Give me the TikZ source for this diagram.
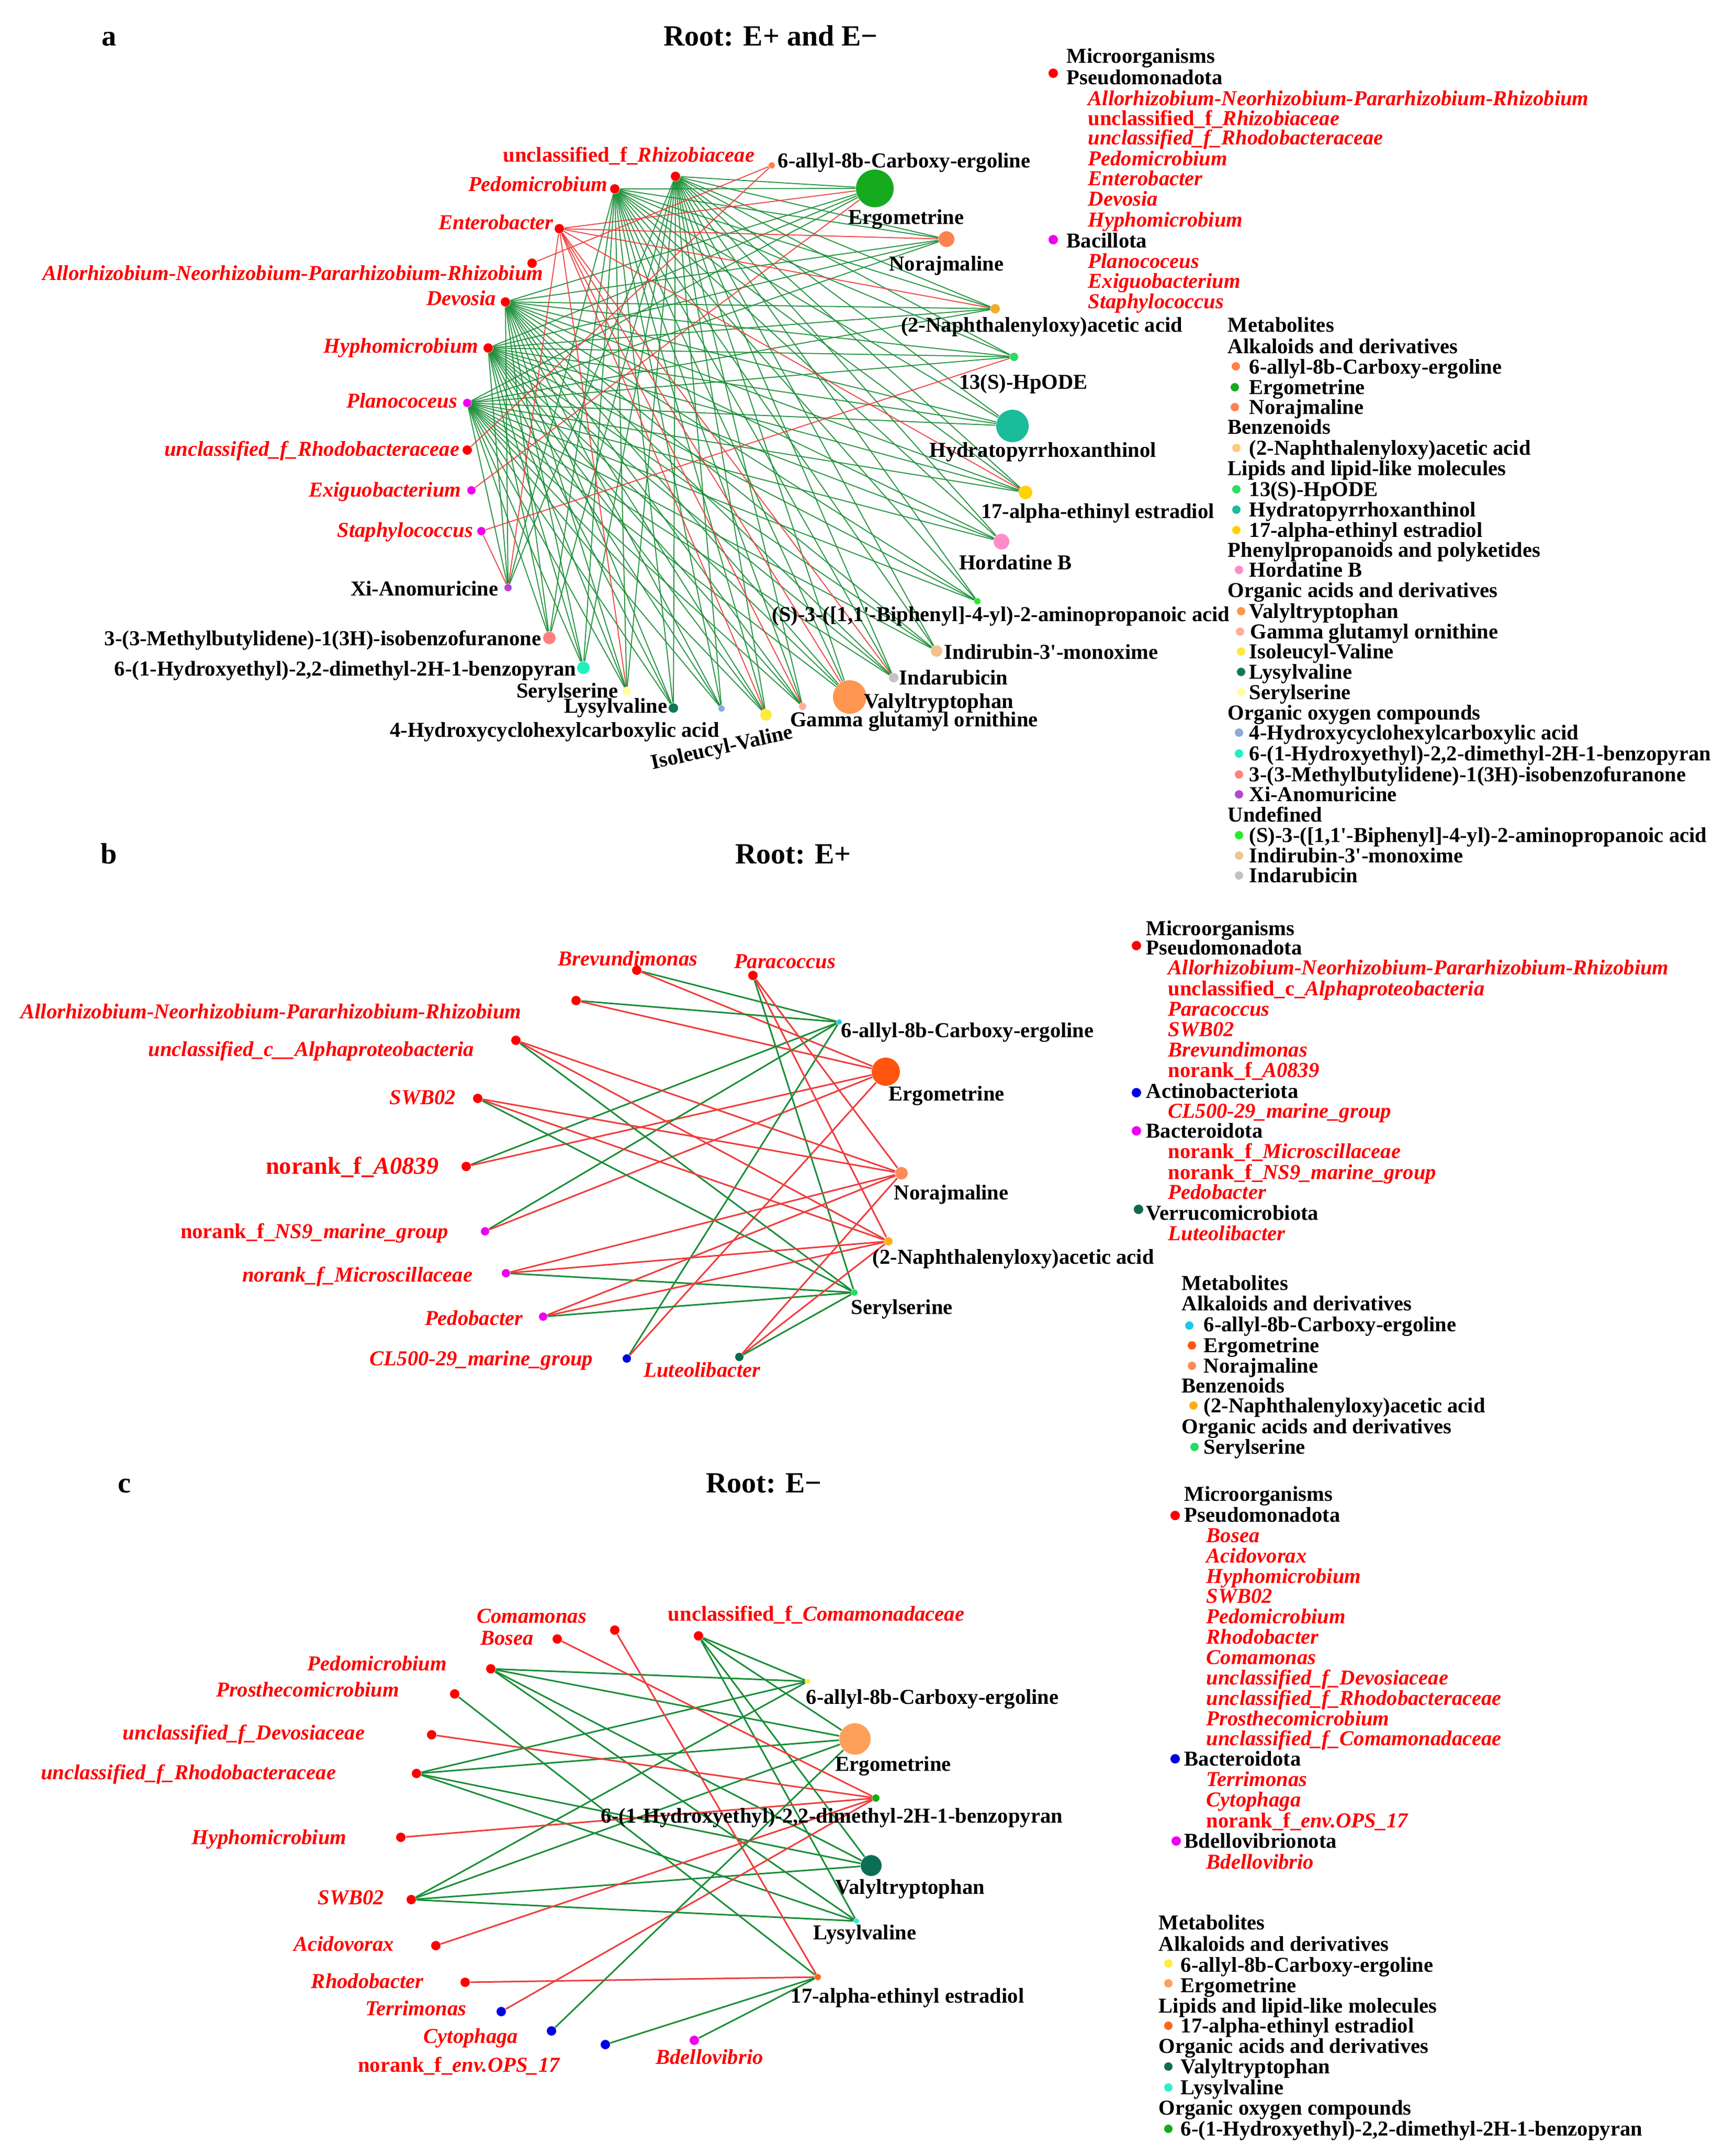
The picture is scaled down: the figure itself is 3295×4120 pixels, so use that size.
\documentclass[tikz,border=0pt]{standalone}
\usepackage{fontspec}
\setmainfont{Liberation Serif}
\pgfdeclarelayer{bg}
\pgfsetlayers{bg,main}
\definecolor{eg}{RGB}{25,142,55}
\definecolor{er}{RGB}{240,60,60}
\definecolor{mg}{RGB}{238,0,238}
\definecolor{cAllyl}{RGB}{255,127,70}
\definecolor{cErgo}{RGB}{22,170,30}
\definecolor{cNora}{RGB}{255,128,80}
\definecolor{cNaph}{RGB}{245,170,40}
\definecolor{cNaphL}{RGB}{255,200,122}
\definecolor{cHp}{RGB}{40,220,100}
\definecolor{cHyd}{RGB}{26,188,156}
\definecolor{cEst}{RGB}{255,210,0}
\definecolor{cHord}{RGB}{255,140,200}
\definecolor{cValy}{RGB}{255,150,80}
\definecolor{cGam}{RGB}{255,175,150}
\definecolor{cIso}{RGB}{255,232,60}
\definecolor{cLys}{RGB}{16,120,90}
\definecolor{cSer}{RGB}{255,255,160}
\definecolor{cHcy}{RGB}{140,168,220}
\definecolor{cHeb}{RGB}{34,240,192}
\definecolor{cMeb}{RGB}{255,128,128}
\definecolor{cXi}{RGB}{180,70,210}
\definecolor{cBip}{RGB}{40,235,40}
\definecolor{cInd}{RGB}{240,195,145}
\definecolor{cIda}{RGB}{195,195,195}
\definecolor{bAllyl}{RGB}{30,200,230}
\definecolor{bErgo}{RGB}{255,85,15}
\definecolor{bNora}{RGB}{255,138,90}
\definecolor{bNaph}{RGB}{255,175,20}
\definecolor{bSer}{RGB}{35,220,100}
\definecolor{cBlue}{RGB}{0,0,230}
\definecolor{cVerr}{RGB}{15,105,75}
\definecolor{kAllyl}{RGB}{255,235,70}
\definecolor{kErgo}{RGB}{255,160,90}
\definecolor{kEst}{RGB}{255,100,30}
\definecolor{kValy}{RGB}{14,110,85}
\definecolor{kLys}{RGB}{46,240,200}
\definecolor{kHeb}{RGB}{24,170,24}
\newcommand{\lbfont}{\fontsize{10.15}{12}\selectfont\bfseries}
\newcommand{\titfont}{\fontsize{14}{16}\selectfont\bfseries}
\begin{document}
\begin{tikzpicture}[x=0.25pt,y=-0.25pt,
  lab/.style={inner sep=0pt, font=\lbfont, text=black},
  mic/.style={inner sep=0pt, font=\lbfont\itshape, text=red},
  lg/.style={lab, anchor=base west},
  lgm/.style={mic, anchor=base west},
  nd/.style 2 args={circle, inner sep=0pt, draw=none, fill=#1, minimum size=#2*0.5pt},
  ttl/.style={inner sep=0pt, font=\titfont, anchor=base},
  ga/.style={draw=eg, line width=0.5pt, opacity=0.9},
  ra/.style={draw=er, line width=0.5pt, opacity=0.9},
  gb/.style={draw=eg, line width=0.75pt},
  rb/.style={draw=er, line width=0.75pt}]
\useasboundingbox (0,0) rectangle (3295,4120);
\begin{pgfonlayer}{bg}
\fill[white] (0,0) rectangle (3295,4120);
\end{pgfonlayer}

% ================= PANEL A =================
\node[ttl] (ta) at (208,88) {a};
\node[ttl] (tta) at (1473,88) {Root: E+ and E−};

\node[nd={red}{9}] (aU) at (1291,337) {};
\node[mic, anchor=base] (aUl) at (1202,310) {{\upshape unclassified\_f\_}Rhizobiaceae};
\node[nd={red}{9}] (aPe) at (1175,361) {};
\node[mic, anchor=base east] (aPel) at (1162,366) {Pedomicrobium};
\node[nd={red}{9}] (aEn) at (1069,437) {};
\node[mic, anchor=base east] (aEnl) at (1058,439) {Enterobacter};
\node[nd={red}{9}] (aAl) at (1017,503) {};
\node[mic, anchor=base east] (aAll) at (1039,536) {Allorhizobium-Neorhizobium-Pararhizobium-Rhizobium};
\node[nd={red}{9}] (aDe) at (966,577) {};
\node[mic, anchor=base east] (aDel) at (949,584) {Devosia};
\node[nd={red}{9}] (aHy) at (933,665) {};
\node[mic, anchor=base east] (aHyl) at (915,674) {Hyphomicrobium};
\node[nd={mg}{8}] (aPl) at (893,770) {};
\node[mic, anchor=base east] (aPll) at (875,779) {Planococeus};
\node[nd={red}{9}] (aRh) at (893,860) {};
\node[mic, anchor=base east] (aRhl) at (879,871) {unclassified\_f\_Rhodobacteraceae};
\node[nd={mg}{8}] (aEx) at (901,937) {};
\node[mic, anchor=base east] (aExl) at (882,949) {Exiguobacterium};
\node[nd={mg}{8}] (aSt) at (920,1015) {};
\node[mic, anchor=base east] (aStl) at (905,1026) {Staphylococcus};

\node[nd={cAllyl}{6}] (m1) at (1475,316) {};
\node[lab, anchor=base west] (m1l) at (1486,321) {6-allyl-8b-Carboxy-ergoline};
\node[nd={cErgo}{36}] (m2) at (1672,360) {};
\node[lab, anchor=base] (m2l) at (1732,429) {Ergometrine};
\node[nd={cNora}{15}] (m3) at (1809,457) {};
\node[lab, anchor=base] (m3l) at (1809,517) {Norajmaline};
\node[nd={cNaph}{9}] (m4) at (1902,590) {};
\node[lab, anchor=base] (m4l) at (1991,634) {(2-Naphthalenyloxy)acetic acid};
\node[nd={cHp}{8}] (m5) at (1938,682) {};
\node[lab, anchor=base] (m5l) at (1956,743) {13(S)-HpODE};
\node[nd={cHyd}{31}] (m6) at (1935,814) {};
\node[lab, anchor=base] (m6l) at (1993,873) {Hydratopyrrhoxanthinol};
\node[nd={cEst}{13}] (m7) at (1960,941) {};
\node[lab, anchor=base] (m7l) at (2098,990) {17-alpha-ethinyl estradiol};
\node[nd={cHord}{15}] (m8) at (1914,1035) {};
\node[lab, anchor=base] (m8l) at (1941,1088) {Hordatine B};
\node[nd={cBip}{6}] (m9) at (1868,1149) {};
\node[lab, anchor=base] (m9l) at (1913,1187) {(S)-3-([1,1\textquotesingle-Biphenyl]-4-yl)-2-aminopropanoic acid};
\node[nd={cInd}{11}] (m10) at (1790,1244) {};
\node[lab, anchor=base west] (m10l) at (1804,1259) {Indirubin-3\textquotesingle-monoxime};
\node[nd={cIda}{9}] (m11) at (1708,1295) {};
\node[lab, anchor=base west] (m11l) at (1718,1308) {Indarubicin};
\node[nd={cValy}{32}] (m12) at (1624,1332) {};
\node[lab, anchor=base west] (m12l) at (1651,1353) {Valyltryptophan};
\node[nd={cGam}{7}] (m13) at (1534,1350) {};
\node[lab, anchor=base] (m13l) at (1747,1388) {Gamma glutamyl ornithine};
\node[nd={cIso}{11}] (m14) at (1464,1366) {};
\node[lab, rotate=12.5] (m14l) at (1380,1431) {Isoleucyl-Valine};
\node[nd={cHcy}{6}] (m15) at (1379,1354) {};
\node[lab, anchor=base] (m15l) at (1060,1408) {4-Hydroxycyclohexylcarboxylic acid};
\node[nd={cLys}{9}] (m16) at (1287,1353) {};
\node[lab, anchor=base east] (m16l) at (1276,1362) {Lysylvaline};
\node[nd={cSer}{8}] (m17) at (1198,1321) {};
\node[lab, anchor=base east] (m17l) at (1182,1333) {Serylserine};
\node[nd={cHeb}{12}] (m18) at (1115,1276) {};
\node[lab, anchor=base east] (m18l) at (1102,1291) {6-(1-Hydroxyethyl)-2,2-dimethyl-2H-1-benzopyran};
\node[nd={cMeb}{12}] (m19) at (1050,1219) {};
\node[lab, anchor=base east] (m19l) at (1035,1233) {3-(3-Methylbutylidene)-1(3H)-isobenzofuranone};
\node[nd={cXi}{7}] (m20) at (971,1123) {};
\node[lab, anchor=base east] (m20l) at (953,1138) {Xi-Anomuricine};

\begin{pgfonlayer}{bg}
\foreach \h in {aU,aPe,aDe,aHy,aPl}{
  \foreach \m in {m2,m3,m4,m5,m6,m7,m8,m9,m10,m11,m12,m13,m14,m15,m16,m17,m18,m19,m20}{
    \draw[ga] (\h) -- (\m);
  }
}
\foreach \m in {m2,m3,m4,m7,m11,m12,m13,m14,m17,m20}{
  \draw[ra] (aEn) -- (\m);
}
\draw[ra] (aAl) -- (m1);
\draw[ra] (aRh) -- (m1);
\draw[ra] (aEx) -- (m2);
\draw[ra] (aSt) -- (m5);
\draw[ra] (aSt) -- (m20);
\end{pgfonlayer}

% legend a
\node[lg] (laH) at (2038,121) {Microorganisms};
\node[nd={red}{9}] (laP) at (2013,140) {};
\node[lg] (laPt) at (2038,162) {Pseudomonadota};
\node[lgm] (la1) at (2079,202) {Allorhizobium-Neorhizobium-Pararhizobium-Rhizobium};
\node[lgm] (la2) at (2079,240) {{\upshape unclassified\_f\_}Rhizobiaceae};
\node[lgm] (la3) at (2079,277) {unclassified\_f\_Rhodobacteraceae};
\node[lgm] (la4) at (2079,317) {Pedomicrobium};
\node[lgm] (la5) at (2079,355) {Enterobacter};
\node[lgm] (la6) at (2079,394) {Devosia};
\node[lgm] (la7) at (2079,434) {Hyphomicrobium};
\node[nd={mg}{9}] (laB) at (2013,458) {};
\node[lg] (laBt) at (2038,473) {Bacillota};
\node[lgm] (la8) at (2079,513) {Planococeus};
\node[lgm] (la9) at (2079,551) {Exiguobacterium};
\node[lgm] (la10) at (2079,589) {Staphylococcus};
\node[lg] (laM) at (2346,634) {Metabolites};
\node[lg] (laC1) at (2346,675) {Alkaloids and derivatives};
\node[nd={cAllyl}{8}] (lad1) at (2362,700) {};
\node[lg] (lat1) at (2387,714) {6-allyl-8b-Carboxy-ergoline};
\node[nd={cErgo}{8}] (lad2) at (2360,740) {};
\node[lg] (lat2) at (2387,753) {Ergometrine};
\node[nd={cNora}{8}] (lad3) at (2360,778) {};
\node[lg] (lat3) at (2387,791) {Norajmaline};
\node[lg] (laC2) at (2346,829) {Benzenoids};
\node[nd={cNaphL}{8}] (lad4) at (2363,856) {};
\node[lg] (lat4) at (2387,869) {(2-Naphthalenyloxy)acetic acid};
\node[lg] (laC3) at (2346,908) {Lipids and lipid-like molecules};
\node[nd={cHp}{8}] (lad5) at (2363,935) {};
\node[lg] (lat5) at (2387,948) {13(S)-HpODE};
\node[nd={cHyd}{8}] (lad6) at (2363,974) {};
\node[lg] (lat6) at (2387,987) {Hydratopyrrhoxanthinol};
\node[nd={cEst}{8}] (lad7) at (2363,1013) {};
\node[lg] (lat7) at (2387,1026) {17-alpha-ethinyl estradiol};
\node[lg] (laC4) at (2346,1064) {Phenylpropanoids and polyketides};
\node[nd={cHord}{8}] (lad8) at (2368,1089) {};
\node[lg] (lat8) at (2387,1102) {Hordatine B};
\node[lg] (laC5) at (2346,1141) {Organic acids and derivatives};
\node[nd={cValy}{8}] (lad9) at (2372,1168) {};
\node[lg] (lat9) at (2387,1181) {Valyltryptophan};
\node[nd={cGam}{8}] (lad10) at (2370,1207) {};
\node[lg] (lat10) at (2389,1220) {Gamma glutamyl ornithine};
\node[nd={cIso}{8}] (lad11) at (2372,1245) {};
\node[lg] (lat11) at (2387,1258) {Isoleucyl-Valine};
\node[nd={cLys}{8}] (lad12) at (2372,1284) {};
\node[lg] (lat12) at (2387,1297) {Lysylvaline};
\node[nd={cSer}{8}] (lad13) at (2372,1323) {};
\node[lg] (lat13) at (2387,1336) {Serylserine};
\node[lg] (laC6) at (2346,1375) {Organic oxygen compounds};
\node[nd={cHcy}{8}] (lad14) at (2368,1400) {};
\node[lg] (lat14) at (2387,1413) {4-Hydroxycyclohexylcarboxylic acid};
\node[nd={cHeb}{8}] (lad15) at (2368,1440) {};
\node[lg] (lat15) at (2387,1453) {6-(1-Hydroxyethyl)-2,2-dimethyl-2H-1-benzopyran};
\node[nd={cMeb}{8}] (lad16) at (2368,1480) {};
\node[lg] (lat16) at (2387,1493) {3-(3-Methylbutylidene)-1(3H)-isobenzofuranone};
\node[nd={cXi}{8}] (lad17) at (2368,1518) {};
\node[lg] (lat17) at (2387,1531) {Xi-Anomuricine};
\node[lg] (laC7) at (2346,1570) {Undefined};
\node[nd={cBip}{8}] (lad18) at (2368,1596) {};
\node[lg] (lat18) at (2387,1609) {(S)-3-([1,1\textquotesingle-Biphenyl]-4-yl)-2-aminopropanoic acid};
\node[nd={cInd}{8}] (lad19) at (2368,1635) {};
\node[lg] (lat19) at (2387,1648) {Indirubin-3\textquotesingle-monoxime};
\node[nd={cIda}{8}] (lad20) at (2368,1673) {};
\node[lg] (lat20) at (2387,1686) {Indarubicin};

% ================= PANEL B =================
\node[ttl] (tb) at (208,1650) {b};
\node[ttl] (ttb) at (1516,1650) {Root: E+};

\node[nd={red}{9}] (bBr) at (1217,1854) {};
\node[mic, anchor=base] (bBrl) at (1200,1845) {Brevundimonas};
\node[nd={red}{9}] (bPa) at (1439,1864) {};
\node[mic, anchor=base] (bPal) at (1500,1850) {Paracoccus};
\node[nd={red}{9}] (bAl) at (1101,1912) {};
\node[mic, anchor=base east] (bAll) at (997,1946) {Allorhizobium-Neorhizobium-Pararhizobium-Rhizobium};
\node[nd={red}{9}] (bUc) at (986,1988) {};
\node[mic, anchor=base east] (bUcl) at (907,2018) {unclassified\_c\_\_Alphaproteobacteria};
\node[nd={red}{9}] (bSW) at (913,2099) {};
\node[mic, anchor=base east] (bSWl) at (872,2110) {SWB02};
\node[nd={red}{9}] (bA0) at (891,2229) {};
\node[mic, anchor=base east, font=\fontsize{11.6}{13}\selectfont\bfseries\itshape] (bA0l) at (839,2243) {{\upshape norank\_f\_}A0839};
\node[nd={mg}{8}] (bNS) at (927,2353) {};
\node[mic, anchor=base east] (bNSl) at (858,2366) {{\upshape norank\_f\_}NS9\_marine\_group};
\node[nd={mg}{8}] (bMi) at (967,2433) {};
\node[mic, anchor=base east] (bMil) at (904,2449) {norank\_f\_Microscillaceae};
\node[nd={mg}{8}] (bPd) at (1038,2516) {};
\node[mic, anchor=base east] (bPdl) at (1000,2532) {Pedobacter};
\node[nd={cBlue}{8}] (bCL) at (1198,2596) {};
\node[mic, anchor=base east] (bCLl) at (1134,2609) {CL500-29\_marine\_group};
\node[nd={cVerr}{8}] (bLu) at (1413,2593) {};
\node[mic, anchor=base] (bLul) at (1342,2631) {Luteolibacter};

\node[nd={bAllyl}{5}] (b1) at (1604,1953) {};
\node[lab, anchor=base west] (b1l) at (1607,1982) {6-allyl-8b-Carboxy-ergoline};
\node[nd={bErgo}{27}] (b2) at (1693,2048) {};
\node[lab, anchor=base west] (b2l) at (1698,2103) {Ergometrine};
\node[nd={bNora}{12}] (b3) at (1723,2242) {};
\node[lab, anchor=base west] (b3l) at (1708,2292) {Norajmaline};
\node[nd={bNaph}{8}] (b4) at (1698,2372) {};
\node[lab, anchor=base west] (b4l) at (1667,2415) {(2-Naphthalenyloxy)acetic acid};
\node[nd={bSer}{6}] (b5) at (1633,2470) {};
\node[lab, anchor=base west] (b5l) at (1626,2511) {Serylserine};

\begin{pgfonlayer}{bg}
\foreach \s in {bBr,bAl,bA0,bNS,bCL}{
  \draw[gb] (\s) -- (b1);
  \draw[rb] (\s) -- (b2);
}
\foreach \s in {bPa,bUc,bSW,bMi,bPd,bLu}{
  \draw[rb] (\s) -- (b3);
  \draw[rb] (\s) -- (b4);
  \draw[gb] (\s) -- (b5);
}
\end{pgfonlayer}

% legend b
\node[lg] (lbH) at (2190,1787) {Microorganisms};
\node[nd={red}{9}] (lbP) at (2172,1807) {};
\node[lg] (lbPt) at (2190,1824) {Pseudomonadota};
\node[lgm] (lb1) at (2232,1862) {Allorhizobium-Neorhizobium-Pararhizobium-Rhizobium};
\node[lgm] (lb2) at (2232,1902) {{\upshape unclassified\_c\_}Alphaproteobacteria};
\node[lgm] (lb3) at (2232,1941) {Paracoccus};
\node[lgm] (lb4) at (2232,1980) {SWB02};
\node[lgm] (lb5) at (2232,2019) {Brevundimonas};
\node[lgm] (lb6) at (2232,2058) {{\upshape norank\_f\_}A0839};
\node[nd={cBlue}{9}] (lbA) at (2172,2088) {};
\node[lg] (lbAt) at (2190,2098) {Actinobacteriota};
\node[lgm] (lb7) at (2232,2136) {CL500-29\_marine\_group};
\node[nd={mg}{9}] (lbB) at (2172,2161) {};
\node[lg] (lbBt) at (2190,2174) {Bacteroidota};
\node[lgm] (lb8) at (2232,2213) {{\upshape norank\_f\_}Microscillaceae};
\node[lgm] (lb9) at (2232,2253) {{\upshape norank\_f\_}NS9\_marine\_group};
\node[lgm] (lb10) at (2232,2291) {Pedobacter};
\node[nd={cVerr}{9}] (lbV) at (2176,2311) {};
\node[lg] (lbVt) at (2190,2331) {Verrucomicrobiota};
\node[lgm] (lb11) at (2232,2370) {Luteolibacter};
\node[lg] (lbM) at (2258,2465) {Metabolites};
\node[lg] (lbC1) at (2258,2504) {Alkaloids and derivatives};
\node[nd={bAllyl}{8}] (lbd1) at (2273,2533) {};
\node[lg] (lbt1) at (2300,2544) {6-allyl-8b-Carboxy-ergoline};
\node[nd={bErgo}{8}] (lbd2) at (2278,2571) {};
\node[lg] (lbt2) at (2300,2584) {Ergometrine};
\node[nd={bNora}{8}] (lbd3) at (2278,2610) {};
\node[lg] (lbt3) at (2300,2623) {Norajmaline};
\node[lg] (lbC2) at (2258,2661) {Benzenoids};
\node[nd={bNaph}{8}] (lbd4) at (2281,2686) {};
\node[lg] (lbt4) at (2300,2699) {(2-Naphthalenyloxy)acetic acid};
\node[lg] (lbC3) at (2258,2739) {Organic acids and derivatives};
\node[nd={bSer}{8}] (lbd5) at (2283,2765) {};
\node[lg] (lbt5) at (2300,2778) {Serylserine};

% ================= PANEL C =================
\node[ttl] (tc) at (238,2852) {c};
\node[ttl] (ttc) at (1460,2852) {Root: E−};

\node[nd={red}{9}] (cCm) at (1175,3115) {};
\node[mic, anchor=base] (cCml) at (1016,3101) {Comamonas};
\node[nd={red}{9}] (cBo) at (1065,3132) {};
\node[mic, anchor=base] (cBol) at (969,3143) {Bosea};
\node[nd={red}{9}] (cUC) at (1335,3126) {};
\node[mic, anchor=base] (cUCl) at (1560,3097) {{\upshape unclassified\_f\_}Comamonadaceae};
\node[nd={red}{9}] (cPe) at (938,3189) {};
\node[mic, anchor=base] (cPel) at (721,3192) {Pedomicrobium};
\node[nd={red}{9}] (cPr) at (869,3237) {};
\node[mic, anchor=base] (cPrl) at (588,3242) {Prosthecomicrobium};
\node[nd={red}{9}] (cDv) at (825,3315) {};
\node[mic, anchor=base east] (cDvl) at (698,3324) {unclassified\_f\_Devosiaceae};
\node[nd={red}{9}] (cRh) at (796,3389) {};
\node[mic, anchor=base east] (cRhl) at (643,3400) {unclassified\_f\_Rhodobacteraceae};
\node[nd={red}{9}] (cHy) at (766,3511) {};
\node[mic, anchor=base east] (cHyl) at (663,3524) {Hyphomicrobium};
\node[nd={red}{9}] (cSW) at (786,3630) {};
\node[mic, anchor=base east] (cSWl) at (735,3639) {SWB02};
\node[nd={red}{9}] (cAc) at (833,3718) {};
\node[mic, anchor=base east] (cAcl) at (754,3728) {Acidovorax};
\node[nd={red}{9}] (cRb) at (889,3788) {};
\node[mic, anchor=base east] (cRbl) at (810,3799) {Rhodobacter};
\node[nd={cBlue}{9}] (cTe) at (958,3844) {};
\node[mic, anchor=base east] (cTel) at (892,3851) {Terrimonas};
\node[nd={cBlue}{9}] (cCy) at (1054,3881) {};
\node[mic, anchor=base east] (cCyl) at (991,3904) {Cytophaga};
\node[nd={cBlue}{9}] (cOP) at (1157,3907) {};
\node[mic, anchor=base] (cOPl) at (877,3959) {{\upshape norank\_f\_}env.OPS\_17};
\node[nd={mg}{9}] (cBd) at (1327,3899) {};
\node[mic, anchor=base] (cBdl) at (1356,3944) {Bdellovibrio};

\node[nd={kAllyl}{5}] (c1) at (1544,3213) {};
\node[lab, anchor=base west] (c1l) at (1540,3256) {6-allyl-8b-Carboxy-ergoline};
\node[nd={kErgo}{30}] (c2) at (1634,3323) {};
\node[lab, anchor=base west] (c2l) at (1596,3384) {Ergometrine};
\node[nd={kHeb}{7}] (c3) at (1674,3436) {};
\node[lab, anchor=base west] (c3l) at (1148,3483) {6-(1-Hydroxyethyl)-2,2-dimethyl-2H-1-benzopyran};
\node[nd={kValy}{20}] (c4) at (1665,3565) {};
\node[lab, anchor=base west] (c4l) at (1596,3619) {Valyltryptophan};
\node[nd={kLys}{5}] (c5) at (1637,3671) {};
\node[lab, anchor=base west] (c5l) at (1554,3706) {Lysylvaline};
\node[nd={kEst}{6}] (c6) at (1563,3778) {};
\node[lab, anchor=base west] (c6l) at (1511,3827) {17-alpha-ethinyl estradiol};

\begin{pgfonlayer}{bg}
\foreach \s in {cUC,cPe,cRh,cSW}{
  \foreach \m in {c1,c2,c4,c5}{
    \draw[gb] (\s) -- (\m);
  }
}
\foreach \s in {cBo,cDv,cHy,cAc,cTe}{
  \draw[rb] (\s) -- (c3);
}
\draw[rb] (cCm) -- (c6);
\draw[rb] (cRb) -- (c6);
\draw[gb] (cPr) -- (c6);
\draw[gb] (cOP) -- (c6);
\draw[gb] (cBd) -- (c6);
\draw[gb] (cCy) -- (c2);
\end{pgfonlayer}

% legend c
\node[lg] (lcH) at (2263,2868) {Microorganisms};
\node[nd={red}{9}] (lcP) at (2246,2896) {};
\node[lg] (lcPt) at (2263,2908) {Pseudomonadota};
\node[lgm] (lc1) at (2305,2947) {Bosea};
\node[lgm] (lc2) at (2305,2986) {Acidovorax};
\node[lgm] (lc3) at (2305,3025) {Hyphomicrobium};
\node[lgm] (lc4) at (2305,3063) {SWB02};
\node[lgm] (lc5) at (2305,3102) {Pedomicrobium};
\node[lgm] (lc6) at (2305,3141) {Rhodobacter};
\node[lgm] (lc7) at (2305,3180) {Comamonas};
\node[lgm] (lc8) at (2305,3219) {unclassified\_f\_Devosiaceae};
\node[lgm] (lc9) at (2305,3258) {unclassified\_f\_Rhodobacteraceae};
\node[lgm] (lc10) at (2305,3297) {Prosthecomicrobium};
\node[lgm] (lc11) at (2305,3335) {unclassified\_f\_Comamonadaceae};
\node[nd={cBlue}{9}] (lcB) at (2246,3361) {};
\node[lg] (lcBt) at (2263,3374) {Bacteroidota};
\node[lgm] (lc12) at (2305,3413) {Terrimonas};
\node[lgm] (lc13) at (2305,3452) {Cytophaga};
\node[lgm] (lc14) at (2305,3492) {{\upshape norank\_f\_}env.OPS\_17};
\node[nd={mg}{9}] (lcD) at (2248,3518) {};
\node[lg] (lcDt) at (2263,3531) {Bdellovibrionota};
\node[lgm] (lc15) at (2305,3571) {Bdellovibrio};
\node[lg] (lcM) at (2214,3687) {Metabolites};
\node[lg] (lcC1) at (2214,3728) {Alkaloids and derivatives};
\node[nd={kAllyl}{8}] (lcd1) at (2233,3752) {};
\node[lg] (lct1) at (2256,3768) {6-allyl-8b-Carboxy-ergoline};
\node[nd={kErgo}{8}] (lcd2) at (2233,3790) {};
\node[lg] (lct2) at (2256,3807) {Ergometrine};
\node[lg] (lcC2) at (2214,3846) {Lipids and lipid-like molecules};
\node[nd={kEst}{8}] (lcd3) at (2233,3871) {};
\node[lg] (lct3) at (2256,3884) {17-alpha-ethinyl estradiol};
\node[lg] (lcC3) at (2214,3923) {Organic acids and derivatives};
\node[nd={kValy}{8}] (lcd4) at (2233,3949) {};
\node[lg] (lct4) at (2256,3962) {Valyltryptophan};
\node[nd={kLys}{8}] (lcd5) at (2233,3989) {};
\node[lg] (lct5) at (2256,4002) {Lysylvaline};
\node[lg] (lcC4) at (2214,4041) {Organic oxygen compounds};
\node[nd={kHeb}{8}] (lcd6) at (2233,4068) {};
\node[lg] (lct6) at (2256,4081) {6-(1-Hydroxyethyl)-2,2-dimethyl-2H-1-benzopyran};
\end{tikzpicture}
\end{document}
